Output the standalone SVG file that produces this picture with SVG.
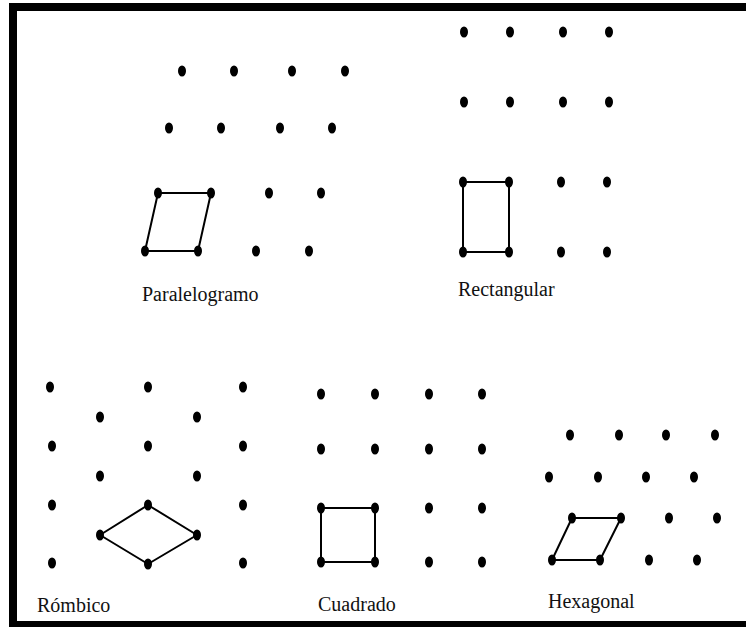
<svg xmlns="http://www.w3.org/2000/svg" width="746" height="627" viewBox="0 0 746 627">
<style>
.d{fill:#000}
.s{fill:none;stroke:#000;stroke-width:2;stroke-linejoin:round}
.t{font-family:"Liberation Serif","Times New Roman",serif;font-size:20px;fill:#111}
</style>
<defs><ellipse id="p" cx="0" cy="0" rx="4" ry="5.5"/></defs>
<rect x="0" y="0" width="746" height="627" fill="#fff"/>
<g id="frame">
<rect x="9" y="3" width="737" height="8" fill="#000"/>
<rect x="9" y="3" width="8" height="624" fill="#000"/>
<rect x="9" y="621" width="737" height="6" fill="#000"/>
</g>
<g id="connectors">
<polygon class="s" points="158,193 211,193 198,251 145,251"/>
<polygon class="s" points="463,182 509,182 509,252 463,252"/>
<polygon class="s" points="148,505 197,535 148,564 100,535"/>
<polygon class="s" points="321,508 375,508 375,562 321,562"/>
<polygon class="s" points="572,518 621,518 600,560 552,560"/>
</g>
<g id="paralelogramo" class="d">
<use href="#p" x="182" y="71"/><use href="#p" x="234" y="71"/><use href="#p" x="292" y="71"/><use href="#p" x="345" y="71"/>
<use href="#p" x="169" y="128"/><use href="#p" x="221" y="128"/><use href="#p" x="280" y="128"/><use href="#p" x="332" y="128"/>
<use href="#p" x="158" y="193"/><use href="#p" x="211" y="193"/><use href="#p" x="269" y="193"/><use href="#p" x="321" y="193"/>
<use href="#p" x="145" y="251"/><use href="#p" x="198" y="251"/><use href="#p" x="256" y="251"/><use href="#p" x="309" y="251"/>
<text class="t" x="142" y="301">Paralelogramo</text>
</g>
<g id="rectangular" class="d">
<use href="#p" x="464" y="32"/><use href="#p" x="510" y="32"/><use href="#p" x="563" y="32"/><use href="#p" x="609" y="32"/>
<use href="#p" x="464" y="102"/><use href="#p" x="510" y="102"/><use href="#p" x="563" y="102"/><use href="#p" x="609" y="102"/>
<use href="#p" x="463" y="182"/><use href="#p" x="509" y="182"/><use href="#p" x="561" y="182"/><use href="#p" x="607" y="182"/>
<use href="#p" x="463" y="252"/><use href="#p" x="509" y="252"/><use href="#p" x="561" y="252"/><use href="#p" x="607" y="252"/>
<text class="t" x="458" y="296">Rectangular</text>
</g>
<g id="rombico" class="d">
<use href="#p" x="50" y="387"/><use href="#p" x="148" y="387"/><use href="#p" x="243" y="387"/>
<use href="#p" x="100" y="417"/><use href="#p" x="197" y="417"/>
<use href="#p" x="52" y="446"/><use href="#p" x="148" y="446"/><use href="#p" x="243" y="446"/>
<use href="#p" x="100" y="476"/><use href="#p" x="197" y="476"/>
<use href="#p" x="52" y="505"/><use href="#p" x="148" y="505"/><use href="#p" x="243" y="505"/>
<use href="#p" x="100" y="535"/><use href="#p" x="197" y="535"/>
<use href="#p" x="52" y="563"/><use href="#p" x="148" y="564"/><use href="#p" x="243" y="563"/>
<text class="t" x="37" y="612">Rómbico</text>
</g>
<g id="cuadrado" class="d">
<use href="#p" x="321" y="394"/><use href="#p" x="375" y="394"/><use href="#p" x="429" y="394"/><use href="#p" x="482" y="394"/>
<use href="#p" x="321" y="449"/><use href="#p" x="375" y="449"/><use href="#p" x="429" y="449"/><use href="#p" x="482" y="449"/>
<use href="#p" x="321" y="508"/><use href="#p" x="375" y="508"/><use href="#p" x="429" y="508"/><use href="#p" x="482" y="508"/>
<use href="#p" x="321" y="562"/><use href="#p" x="375" y="562"/><use href="#p" x="429" y="562"/><use href="#p" x="482" y="562"/>
<text class="t" x="318" y="611">Cuadrado</text>
</g>
<g id="hexagonal" class="d">
<use href="#p" x="570" y="435"/><use href="#p" x="619" y="435"/><use href="#p" x="666" y="435"/><use href="#p" x="715" y="435"/>
<use href="#p" x="549" y="477"/><use href="#p" x="598" y="477"/><use href="#p" x="646" y="477"/><use href="#p" x="694" y="477"/>
<use href="#p" x="572" y="518"/><use href="#p" x="621" y="518"/><use href="#p" x="669" y="518"/><use href="#p" x="717" y="518"/>
<use href="#p" x="552" y="560"/><use href="#p" x="600" y="560"/><use href="#p" x="649" y="560"/><use href="#p" x="697" y="560"/>
<text class="t" x="548" y="608">Hexagonal</text>
</g>
</svg>
